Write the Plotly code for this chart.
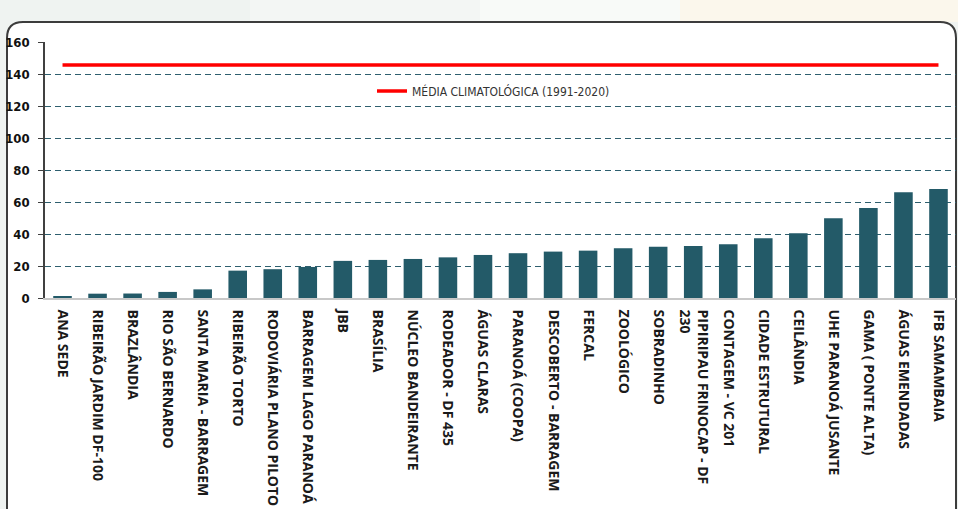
import plotly.graph_objects as go

estacoes = [
    "ANA SEDE", "RIBEIRÃO JARDIM DF-100", "BRAZLÂNDIA", "RIO SÃO BERNARDO",
    "SANTA MARIA - BARRAGEM", "RIBEIRÃO TORTO", "RODOVIÁRIA PLANO PILOTO",
    "BARRAGEM LAGO PARANOÁ", "JBB", "BRASÍLIA", "NÚCLEO BANDEIRANTE",
    "RODEADOR - DF 435", "ÁGUAS CLARAS", "PARANOÁ (COOPA)", "DESCOBERTO - BARRAGEM",
    "FERCAL", "ZOOLÓGICO", "SOBRADINHO", "PIPIRIPAU FRINOCAP - DF<br>230",
    "CONTAGEM - VC 201", "CIDADE ESTRUTURAL", "CEILÂNDIA", "UHE PARANOÁ JUSANTE",
    "GAMA ( PONTE ALTA)", "ÁGUAS EMENDADAS", "IFB SAMAMBAIA",
]
precipitacao = [
    1.2, 2.7, 2.8, 3.8, 5.4, 17.1, 18.0, 19.4, 23.2, 23.8, 24.4, 25.4, 26.9,
    28.0, 29.0, 29.6, 31.1, 32.1, 32.5, 33.6, 37.3, 40.4, 49.9, 56.2, 66.1, 68.2,
]
media_climatologica = 145.7
y_ticks = [0, 20, 40, 60, 80, 100, 120, 140, 160]

W, H = 958, 509
L, R, T, B = 45, 2, 42, 211
PW = W - L - R
PH = H - T - B


def px(x):
    return (x - L) / PW


def py(y):
    return (H - B - y) / PH


fig = go.Figure()
fig.add_trace(go.Bar(
    x=estacoes, y=precipitacao, marker=dict(color="#235a68", line=dict(width=0)),
    showlegend=False, hoverinfo="x+y",
))
fig.add_trace(go.Scatter(
    x=estacoes, y=[media_climatologica] * len(estacoes), mode="lines",
    line=dict(color="#ff0000", width=3.5), name="MÉDIA CLIMATOLÓGICA (1991-2020)",
))

r = 16
frame = (
    f"M {px(7)},{py(530)} L {px(7)},{py(22 + r)} Q {px(7)},{py(22)} {px(7 + r)},{py(22)} "
    f"L {px(956 - r)},{py(22)} Q {px(956)},{py(22)} {px(956)},{py(22 + r)} L {px(956)},{py(530)} Z"
)
shapes = [
    dict(type="rect", xref="paper", yref="paper", x0=px(250), x1=px(480), y0=py(0), y1=py(22),
         fillcolor="#f3f6f4", line=dict(width=0), layer="below"),
    dict(type="rect", xref="paper", yref="paper", x0=px(480), x1=px(680), y0=py(0), y1=py(22),
         fillcolor="#f8faf8", line=dict(width=0), layer="below"),
    dict(type="rect", xref="paper", yref="paper", x0=px(680), x1=px(960), y0=py(0), y1=py(22),
         fillcolor="#fbf7ec", line=dict(width=0), layer="below"),
    dict(type="path", xref="paper", yref="paper", path=frame, fillcolor="#ffffff",
         line=dict(color="#3c3c3c", width=2), layer="below"),
]

fig.update_layout(
    width=W, height=H,
    margin=dict(l=L, r=R, t=T, b=B, autoexpand=False),
    paper_bgcolor="#eff3f1", plot_bgcolor="rgba(0,0,0,0)",
    bargap=0.47,
    shapes=shapes,
    showlegend=True,
    legend=dict(x=px(372), y=py(91), xanchor="left", yanchor="middle",
                bgcolor="rgba(0,0,0,0)",
                font=dict(family="DejaVu Sans Condensed, sans-serif",
                          size=12, color="#333333")),
    xaxis=dict(
        type="category", automargin=False, showgrid=False, tickangle=90,
        showline=True, linecolor="#c8c8c8", linewidth=1.5, ticks="",
        ticklabelstandoff=7,
        tickfont=dict(family="Open Sans, sans-serif", size=14, color="#1a1a1a", weight="bold"),
    ),
    yaxis=dict(
        range=[0, 160], tickvals=y_ticks, automargin=False,
        showgrid=True, gridcolor="#2e5f6e", gridwidth=1.3, griddash="6px,4px",
        showline=True, linecolor="#404040", linewidth=1.5,
        ticks="outside", ticklen=5, tickcolor="#404040", tickwidth=1.2,
        ticklabelstandoff=6, zeroline=False,
        tickfont=dict(family="DejaVu Sans Condensed, sans-serif",
                      size=13, color="#111111", weight="bold"),
    ),
)

fig.write_html("out.html", config={"displayModeBar": False},
               post_script="document.body.style.margin='0px';")
